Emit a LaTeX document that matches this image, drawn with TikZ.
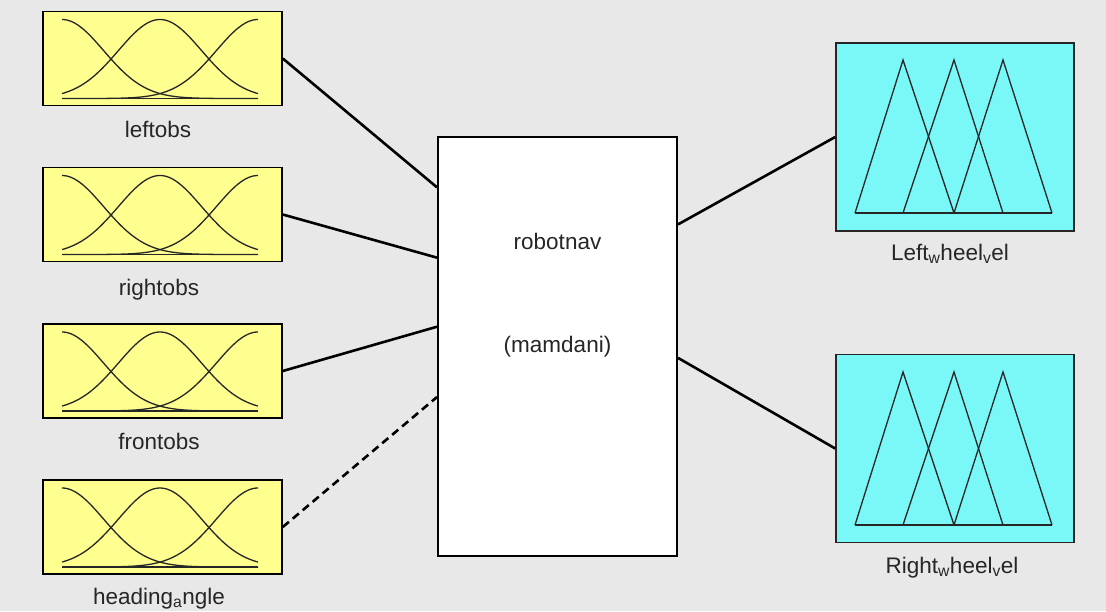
\documentclass[tikz,border=0pt]{standalone}
\usepackage{fontspec}
\setmainfont{Liberation Sans}
\usetikzlibrary{calc}
\definecolor{bg}{HTML}{E8E8E8}
\definecolor{inyel}{HTML}{FFFF8F}
\definecolor{outcyan}{HTML}{7AF8F8}
\tikzset{
  inbox/.style={draw=black, line width=1.6pt, fill=inyel, minimum width=239pt, minimum height=94pt, inner sep=0pt},
  outbox/.style={draw=black!85, line width=1.6pt, fill=outcyan, minimum width=238pt, minimum height=188pt, inner sep=0pt},
  sysbox/.style={draw=black, line width=2pt, fill=white, minimum width=239pt, minimum height=419pt, inner sep=0pt},
  lbl/.style={font=\fontsize{22.5}{24}\selectfont, text=black!85, inner sep=0pt, anchor=base},
  conn/.style={line width=2.6pt, black},
  mf/.style={line width=1.3pt, black!85},
}
\newcommand{\gaussat}[2]{% #1 = top y, #2 = centre x
  \draw[mf, domain=62:258, samples=80, smooth] plot (\x, {#1+8+79*(1-exp(-0.5*((\x-#2)/41.6)*((\x-#2)/41.6)))});}
\begin{document}
\begin{tikzpicture}[x=1pt,y=-1pt]
\fill[bg] (0,0) rectangle (1106,611);
\useasboundingbox (0,0) rectangle (1106,611);

% input boxes
\node[inbox] (in1) at (162.5,58.5) {};
\node[inbox] (in2) at (162.5,214.5) {};
\node[inbox] (in3) at (162.5,371) {};
\node[inbox] (in4) at (162.5,527) {};
\foreach \t in {11.5,167.5,324,480}{
  \gaussat{\t}{62}
  \gaussat{\t}{160}
  \gaussat{\t}{258}
  \draw[mf] (62,\t+87) -- (258,\t+87);
}
\node[lbl] (l1) at (158,137) {leftobs};
\node[lbl] (l2) at (159,295) {rightobs};
\node[lbl] (l3) at (159,449) {frontobs};
\node[lbl] (l4) at (159,604) {heading\textsubscript{a}ngle};

% system box
\node[sysbox] (sys) at (557.5,346.5) {};
\node[lbl] (sname) at (557.5,249) {robotnav};
\node[lbl] (stype) at (557.5,352) {(mamdani)};

% output boxes
\node[outbox] (out1) at (955,137) {};
\node[outbox] (out2) at (955,448.5) {};
\foreach \t in {43,355}{
  \draw[mf] (855,\t+170) -- (903,\t+17) -- (954,\t+170);
  \draw[mf] (903,\t+170) -- (954,\t+17) -- (1003,\t+170);
  \draw[mf] (954,\t+170) -- (1003,\t+17) -- (1052,\t+170);
  \draw[mf] (855,\t+170) -- (1052,\t+170);
}
\node[lbl] (o1) at (950,260) {Left\textsubscript{w}heel\textsubscript{v}el};
\node[lbl] (o2) at (952,573) {Right\textsubscript{w}heel\textsubscript{v}el};

% connectors
\draw[conn] (in1.east) -- ($(sys.north west)!0.122!(sys.south west)$);
\draw[conn] (in2.east) -- ($(sys.north west)!0.289!(sys.south west)$);
\draw[conn] (in3.east) -- ($(sys.north west)!0.453!(sys.south west)$);
\draw[conn, dashed, dash pattern=on 8pt off 5pt] (in4.east) -- ($(sys.north west)!0.62!(sys.south west)$);
\draw[conn] ($(sys.north east)!0.21!(sys.south east)$) -- (out1.west);
\draw[conn] ($(sys.north east)!0.527!(sys.south east)$) -- (out2.west);
\end{tikzpicture}
\end{document}
